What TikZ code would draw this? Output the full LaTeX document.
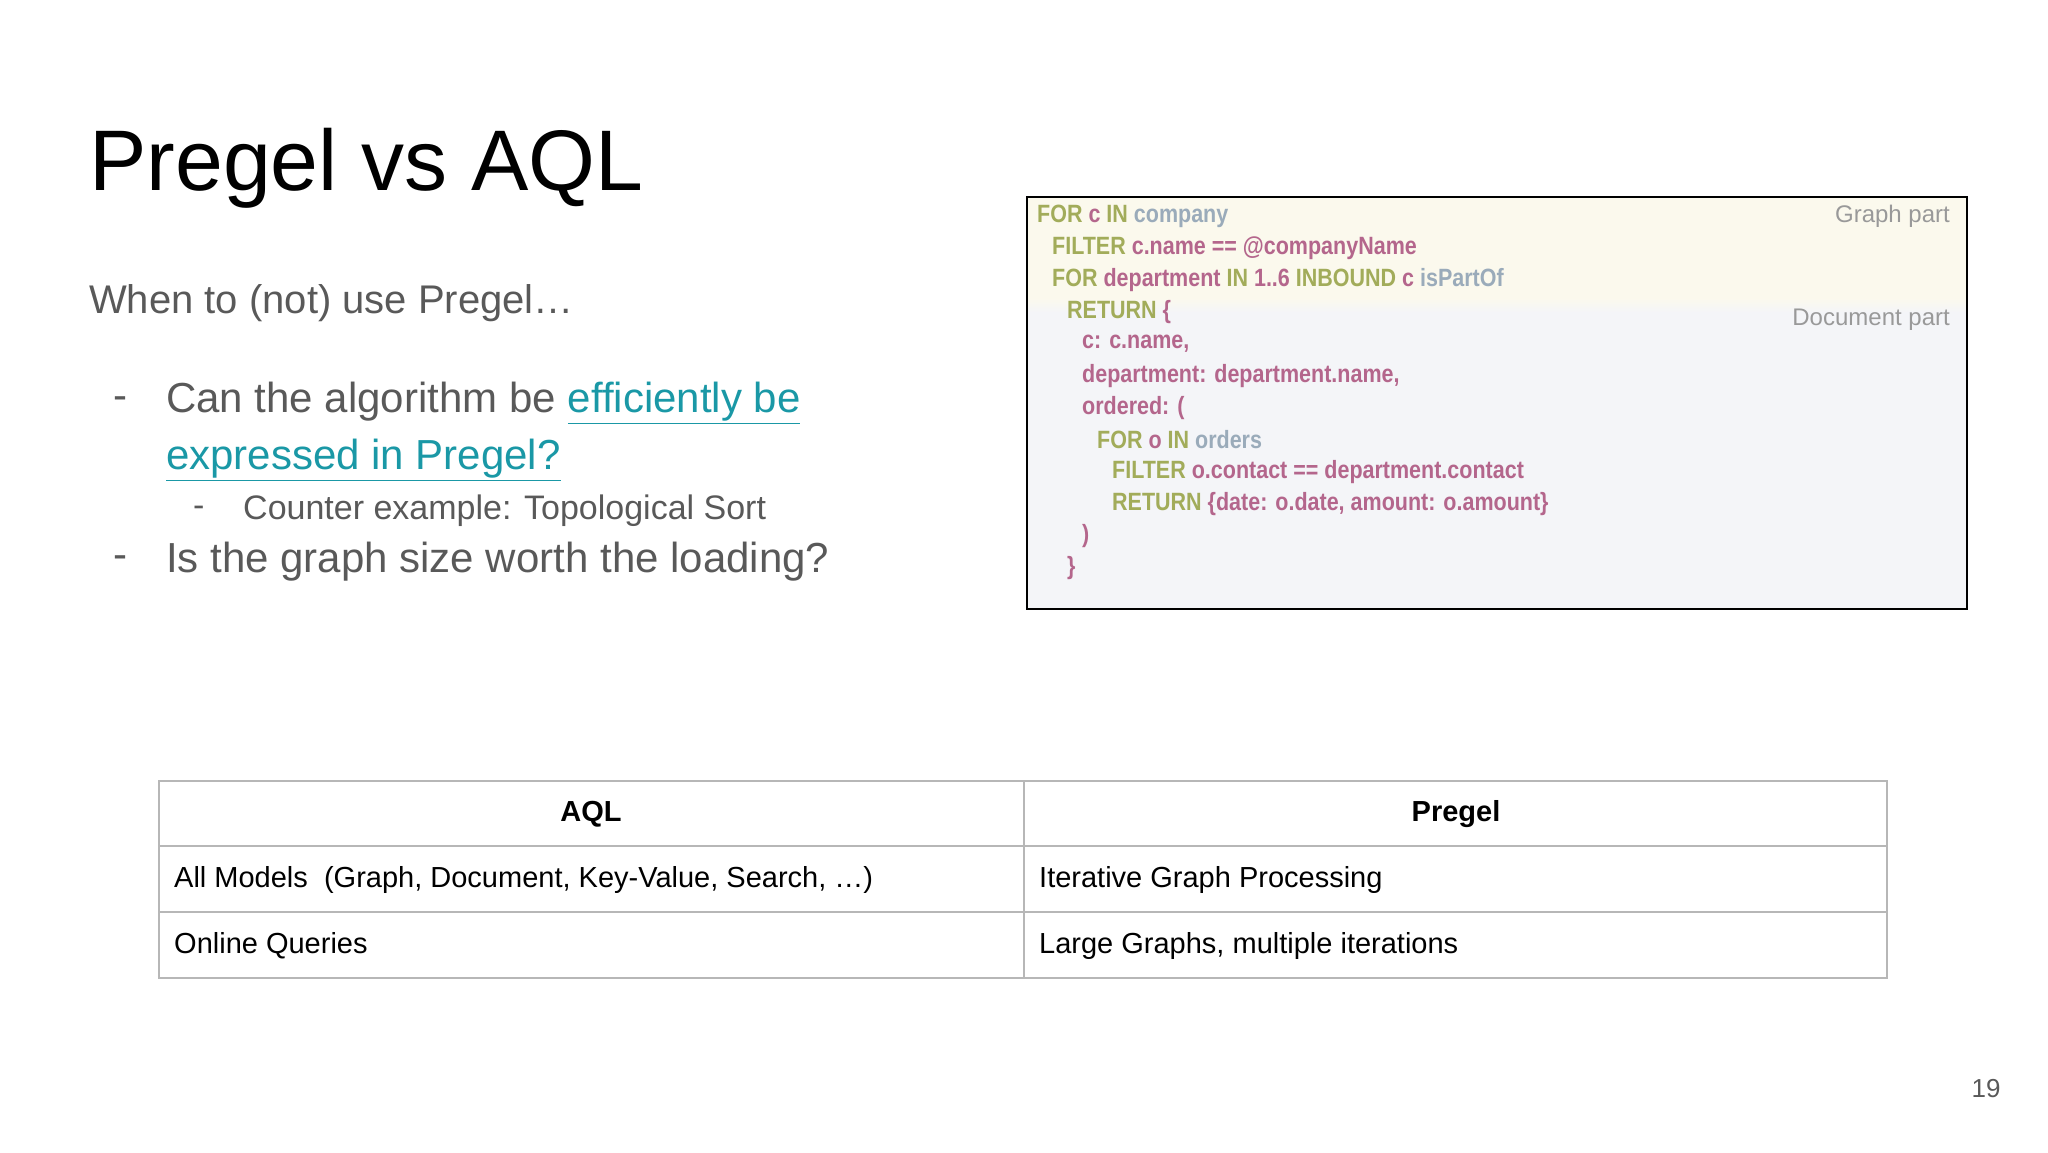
\documentclass[tikz,border=0pt]{standalone}
\usepackage{fontspec}
\setmainfont{Liberation Sans}
\usepackage{xcolor}
\definecolor{kw}{HTML}{A2AC5A}
\definecolor{vr}{HTML}{B4668C}
\definecolor{cl}{HTML}{9AABBA}
\definecolor{txt}{HTML}{595959}
\definecolor{lnk}{HTML}{1A98A6}
\definecolor{grid}{HTML}{B7B7B7}
\definecolor{docbg}{HTML}{F4F5F8}
\definecolor{grbg}{HTML}{FBF9ED}
\begin{document}
\begin{tikzpicture}[x=1pt,y=-1pt,
  tx/.style={anchor=west,inner sep=0pt,text=txt},
  code/.style={anchor=west,inner sep=0pt,font=\fontsize{25}{25}\selectfont\bfseries,xscale=0.86},
  cell/.style={anchor=west,inner sep=0pt,font=\fontsize{29}{29}\selectfont},
  lab/.style={anchor=east,inner sep=0pt,text=gray!80,font=\fontsize{24}{24}\selectfont}]
\useasboundingbox (0,0) rectangle (2048,1152);
\node[tx,text=black,font=\fontsize{86}{86}\selectfont] (title) at (89,168) {Pregel vs AQL};
\node[tx,font=\fontsize{40}{40}\selectfont] (when) at (89,303) {When to (not) use Pregel…};
\node[tx,font=\fontsize{42}{42}\selectfont] (d1) at (113,403) {-};
\node[tx,font=\fontsize{42}{42}\selectfont] (b1) at (166,403) {Can the algorithm be \textcolor{lnk}{\underline{efficiently be}}};
\node[tx,font=\fontsize{42}{42}\selectfont] (b1b) at (166,460) {\textcolor{lnk}{\underline{expressed in Pregel?}}};
\node[tx,font=\fontsize{34}{34}\selectfont] (d2) at (193,511) {-};
\node[tx,font=\fontsize{34}{34}\selectfont] (b2) at (243,511) {Counter example: Topological Sort};
\node[tx,font=\fontsize{42}{42}\selectfont] (d3) at (113,562) {-};
\node[tx,font=\fontsize{42}{42}\selectfont] (b3) at (166,562) {Is the graph size worth the loading?};
% code box
\fill[docbg] (1027,197) rectangle (1967,609);
\fill[grbg] (1027,197) rectangle (1967,300);
\shade[top color=grbg,bottom color=docbg] (1027,298) rectangle (1967,312);
\draw[line width=1.5pt] (1027,197) rectangle (1967,609);
\node[lab] (gp) at (1950,216) {Graph part};
\node[lab] (dp) at (1950,320) {Document part};
\node[code] (c1) at (1037,216) {\color{kw}FOR \color{vr}c \color{kw}IN \color{cl}company};
\node[code] (c2) at (1052,248) {\color{kw}FILTER \color{vr}c.name == @companyName};
\node[code] (c3) at (1052,280) {\color{kw}FOR \color{vr}department \color{kw}IN \color{vr}1..6 \color{kw}INBOUND \color{vr}c \color{cl}isPartOf};
\node[code] (c4) at (1067,312) {\color{kw}RETURN \color{vr}\{};
\node[code] (c5) at (1082,344) {\color{vr}c: c.name,};
\node[code] (c6) at (1082,376) {\color{vr}department: department.name,};
\node[code] (c7) at (1082,408) {\color{vr}ordered: (};
\node[code] (c8) at (1097,440) {\color{kw}FOR \color{vr}o \color{kw}IN \color{cl}orders};
\node[code] (c9) at (1112,472) {\color{kw}FILTER \color{vr}o.contact == department.contact};
\node[code] (c10) at (1112,504) {\color{kw}RETURN \color{vr}\{date: o.date, amount: o.amount\}};
\node[code] (c11) at (1082,536) {\color{vr})};
\node[code] (c12) at (1067,568) {\color{vr}\}};
% table
\draw[grid,line width=1.5pt] (159,781) rectangle (1887,978);
\draw[grid,line width=1.5pt] (159,846) -- (1887,846) (159,912) -- (1887,912) (1024,781) -- (1024,978);
\node[inner sep=0pt,font=\fontsize{29}{29}\selectfont\bfseries] (h1) at (591,814) {AQL};
\node[inner sep=0pt,font=\fontsize{29}{29}\selectfont\bfseries] (h2) at (1456,814) {Pregel};
\node[cell] (r1a) at (174,880) {All Models\ \ (Graph, Document, Key-Value, Search, …)};
\node[cell] (r1b) at (1039,880) {Iterative Graph Processing};
\node[cell] (r2a) at (174,946) {Online Queries};
\node[cell] (r2b) at (1039,946) {Large Graphs, multiple iterations};
\node[inner sep=0pt,text=txt,font=\fontsize{26}{26}\selectfont] (pn) at (1986,1089) {19};
\end{tikzpicture}
\end{document}
